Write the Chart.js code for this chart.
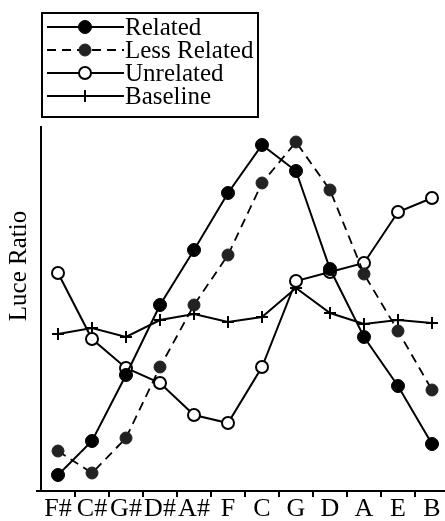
<!DOCTYPE html>
<html>
<head>
<meta charset="utf-8">
<script src="https://cdn.jsdelivr.net/npm/chart.js@4.4.0/dist/chart.umd.min.js"></script>
<style>
  html, body { margin: 0; padding: 0; background: #fff; overflow: hidden; }
  #caja { width: 457px; height: 521px; position: relative; }
</style>
</head>
<body>
<div id="caja"><canvas id="grafico"></canvas></div>
<script>
// Tonalidades en el eje x (círculo de quintas)
const tonos = ["F#", "C#", "G#", "D#", "A#", "F", "C", "G", "D", "A", "E", "B"];

// Valores (escala arbitraria, sin marcas en el eje y)
const relacionado = [0.16, 0.50, 1.16, 1.86, 2.41, 2.98, 3.46, 3.20, 2.22, 1.54, 1.05, 0.47];
const menosRelacionado = [0.40, 0.18, 0.53, 1.24, 1.86, 2.36, 3.08, 3.49, 3.01, 2.17, 1.60, 1.01];
const noRelacionado = [2.18, 1.52, 1.23, 1.08, 0.76, 0.68, 1.24, 2.10, 2.19, 2.28, 2.79, 2.93];
const lineaBase = [1.57, 1.63, 1.54, 1.71, 1.77, 1.69, 1.74, 2.03, 1.78, 1.67, 1.71, 1.68];

const etiquetas = ["Related", "Less Related", "Unrelated", "Baseline"];
const tituloY = "Luce Ratio";

const fuente = "'Liberation Serif', 'DejaVu Serif', serif";

// leyenda dibujada a mano: caja con muestra de línea + marcador
const leyendaCaja = {
  id: "leyendaCaja",
  afterDraw(chart) {
    const ctx = chart.ctx;
    const area = chart.chartArea;
    ctx.save();
    // el eje x sobresale un poco a la izquierda del eje y
    ctx.strokeStyle = "#000";
    ctx.lineWidth = 2;
    ctx.beginPath();
    ctx.moveTo(area.left - 5, area.bottom);
    ctx.lineTo(area.left, area.bottom);
    ctx.stroke();

    ctx.strokeRect(42, 13, 216, 104);
    const filas = [27, 50, 73, 96];
    chart.data.datasets.forEach((ds, i) => {
      const y = filas[i];
      ctx.beginPath();
      ctx.setLineDash(ds.borderDash || []);
      ctx.lineWidth = ds.borderWidth;
      ctx.strokeStyle = ds.borderColor;
      ctx.moveTo(47, y);
      ctx.lineTo(124, y);
      ctx.stroke();
      ctx.setLineDash([]);
      ctx.fillStyle = ds.pointBackgroundColor;
      ctx.strokeStyle = ds.pointBorderColor;
      ctx.lineWidth = ds.pointBorderWidth;
      Chart.helpers.drawPoint(ctx, {
        pointStyle: ds.pointStyle,
        radius: ds.pointRadius,
        rotation: 0,
        borderWidth: ds.pointBorderWidth
      }, 85, y);
      ctx.fillStyle = "#000";
      ctx.font = "25px " + fuente;
      ctx.textBaseline = "middle";
      ctx.textAlign = "left";
      ctx.fillText(etiquetas[i], 125, y + 1);
    });
    // título del eje y
    ctx.translate(19, 266);
    ctx.rotate(-Math.PI / 2);
    ctx.textAlign = "center";
    ctx.textBaseline = "middle";
    ctx.font = "25px " + fuente;
    ctx.fillText(tituloY, 0, 0);
    ctx.restore();
  }
};

new Chart(document.getElementById("grafico"), {
  type: "line",
  data: {
    labels: tonos,
    datasets: [
      {
        label: etiquetas[0],
        data: relacionado,
        borderColor: "#000",
        borderWidth: 2,
        pointStyle: "circle",
        pointRadius: 6.5,
        pointBackgroundColor: "#000",
        pointBorderColor: "#000",
        pointBorderWidth: 1
      },
      {
        label: etiquetas[1],
        data: menosRelacionado,
        borderColor: "#000",
        borderWidth: 1.8,
        borderDash: [9, 6],
        pointStyle: "circle",
        pointRadius: 6,
        pointBackgroundColor: "#222",
        pointBorderColor: "#222",
        pointBorderWidth: 1
      },
      {
        label: etiquetas[2],
        data: noRelacionado,
        borderColor: "#000",
        borderWidth: 2,
        pointStyle: "circle",
        pointRadius: 6,
        pointBackgroundColor: "#fff",
        pointBorderColor: "#000",
        pointBorderWidth: 2
      },
      {
        label: etiquetas[3],
        data: lineaBase,
        borderColor: "#000",
        borderWidth: 2,
        pointStyle: "cross",
        pointRadius: 6,
        pointBackgroundColor: "#000",
        pointBorderColor: "#000",
        pointBorderWidth: 2
      }
    ]
  },
  options: {
    responsive: true,
    maintainAspectRatio: false,
    animation: false,
    layout: { padding: { top: 127, right: 0, left: 0, bottom: 0 } },
    elements: { line: { tension: 0 } },
    scales: {
      x: {
        offset: true,
        afterFit: (s) => { s.height = 30; s.paddingLeft = 0; s.paddingRight = 0; },
        grid: {
          display: true,
          offset: true,
          drawOnChartArea: false,
          drawTicks: true,
          tickLength: 6,
          color: (c) => c.index === 0 ? "rgba(0,0,0,0)" : "#000",
          lineWidth: 2
        },
        border: { display: true, color: "#000", width: 2 },
        ticks: {
          color: "#000",
          padding: -3,
          maxRotation: 0,
          autoSkip: false,
          font: { family: fuente, size: 26 }
        }
      },
      y: {
        min: 0,
        max: 3.64,
        afterFit: (s) => { s.width = 41; },
        grid: { display: false },
        border: { display: true, color: "#000", width: 2 },
        ticks: { display: false }
      }
    },
    plugins: {
      legend: { display: false },
      tooltip: { enabled: false }
    }
  },
  plugins: [leyendaCaja]
});
</script>
</body>
</html>
